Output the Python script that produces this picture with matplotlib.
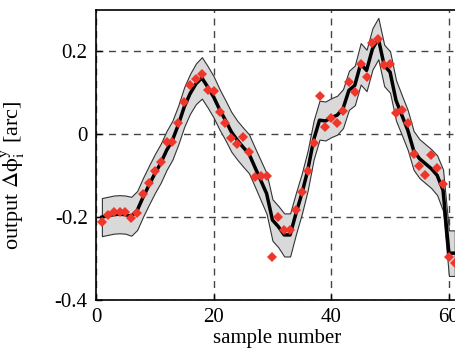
import matplotlib
matplotlib.use('Agg')
import matplotlib.pyplot as plt
import numpy as np

plt.rcParams['font.family'] = 'Liberation Serif'
plt.rcParams['mathtext.fontset'] = 'stix'

# sample index
samples = list(range(1, 62))

# measured output (red points)
measured = [-0.213, -0.195, -0.187, -0.187, -0.187, -0.201, -0.190, -0.145, -0.117, -0.088,
            -0.066, -0.019, -0.019, 0.027, 0.078, 0.120, 0.134, 0.146, 0.107, 0.104,
            0.054, 0.027, -0.009, -0.024, -0.007, -0.044, -0.103, -0.100, -0.101, -0.296,
            -0.200, -0.231, -0.230, -0.182, -0.140, -0.088, -0.020, 0.092, 0.017, 0.039,
            0.027, 0.056, 0.125, 0.101, 0.169, 0.137, 0.220, 0.231, 0.166, 0.169,
            0.052, 0.058, 0.027, -0.048, -0.076, -0.098, -0.050, -0.081, -0.120, -0.296,
            -0.310]

# predicted mean (black line)
mean = [-0.200, -0.197, -0.194, -0.193, -0.194, -0.198, -0.184, -0.152, -0.123, -0.095,
        -0.070, -0.039, -0.014, 0.023, 0.066, 0.098, 0.122, 0.136, 0.114, 0.090,
        0.060, 0.034, 0.006, -0.014, -0.031, -0.047, -0.079, -0.111, -0.143, -0.207,
        -0.223, -0.243, -0.243, -0.191, -0.143, -0.087, -0.014, 0.034, 0.032, 0.040,
        0.046, 0.062, 0.106, 0.118, 0.170, 0.154, 0.206, 0.231, 0.166, 0.150,
        0.082, 0.046, 0.010, -0.039, -0.059, -0.071, -0.083, -0.099, -0.135, -0.287,
        -0.287]

# half width of the grey confidence band
band = [0.046, 0.046, 0.046, 0.046, 0.046, 0.047, 0.047, 0.047, 0.047, 0.047,
        0.047, 0.047, 0.047, 0.047, 0.048, 0.048, 0.049, 0.050, 0.050, 0.050,
        0.049, 0.048, 0.048, 0.047, 0.047, 0.047, 0.047, 0.048, 0.049, 0.050,
        0.050, 0.052, 0.052, 0.050, 0.049, 0.048, 0.047, 0.047, 0.047, 0.047,
        0.047, 0.047, 0.047, 0.048, 0.050, 0.050, 0.050, 0.050, 0.050, 0.050,
        0.049, 0.048, 0.048, 0.047, 0.047, 0.047, 0.047, 0.048, 0.050, 0.055,
        0.055]

x = np.array(samples)
m = np.array(mean)
b = np.array(band)

fig = plt.figure(figsize=(4.55, 3.55), dpi=100)
ax = fig.add_axes([0.211, 0.155, 0.795, 0.817])

ax.fill_between(x, m - b, m + b, facecolor='#d9d9d9', edgecolor='#333333',
                linewidth=0.8, zorder=2)
ax.plot(x, m, color='black', linewidth=2.5, zorder=3)
ax.plot(x, measured, 'D', color='#f0362b', markersize=5.2, markeredgewidth=0, zorder=4)

ax.set_xlim(0, 61.5)
ax.set_ylim(-0.4, 0.3)
ax.set_xticks([0, 20, 40, 60])
ax.set_yticks([-0.4, -0.2, 0, 0.2])
ax.set_yticklabels(['-0.4', '-0.2', '0', '0.2'])
ax.tick_params(direction='in', labelsize=15, length=4, width=1, pad=6)
ax.grid(True, color='#444444', linestyle=(0, (5, 4)), linewidth=1, zorder=0)
ax.set_axisbelow(True)
ax.spines['right'].set_visible(False)
for s in ['left', 'top', 'bottom']:
    ax.spines[s].set_linewidth(1.2)

ax.set_xlabel('sample number', fontsize=15, labelpad=1)
ax.set_ylabel(r'output $\Delta\mathrm{\phi}^{\mathrm{y}}_{\mathrm{i}}$ [arc]', fontsize=16)
ax.yaxis.set_label_coords(-0.19, 0.43)

fig.savefig('out.png', dpi=100)
